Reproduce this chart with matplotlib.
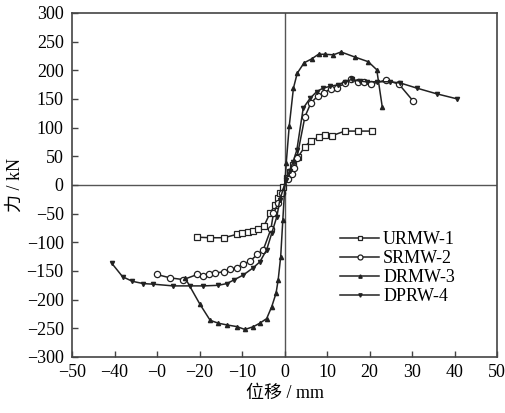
import numpy as np
import matplotlib
matplotlib.use('Agg')
import matplotlib.pyplot as plt

plt.rcParams['font.family'] = ['Liberation Serif', 'Noto Sans CJK SC']
plt.rcParams['mathtext.fontset'] = 'stix'

# URMW-1 (squares)
urmw_x = [-20.7, -17.5, -14.2, -11.2, -9.9, -8.7, -7.5, -6.2, -4.8, -3.4, -2.2, -1.6, -1.1, -0.3,
          0.6, 1.3, 2.0, 3.2, 4.8, 6.2, 8.0, 9.5, 11.2, 14.2, 17.2, 20.5]
urmw_y = [-91, -92, -92, -86, -84, -82, -80, -77, -71, -49, -35, -23, -14, -3,
          12, 23, 35, 49, 67, 77, 83, 87, 86, 94, 94, 94]

# SRMW-2 (circles)
srmw_x = [-30.1, -26.9, -23.8, -20.5, -19.1, -17.7, -16.4, -14.2, -12.8, -11.1, -9.7, -8.1, -6.4, -5.0,
          -3.2, -2.6, -1.5, -0.7, 0.8, 1.7, 2.2, 2.9, 4.8, 6.2, 7.8, 9.4, 10.9, 12.3, 14.2, 15.6,
          17.2, 18.8, 20.4, 23.8, 26.9, 30.2]
srmw_y = [-156, -162, -165, -156, -158, -156, -154, -151, -147, -144, -138, -133, -121, -113,
          -77, -49, -32, -14, 10, 20, 29, 47, 119, 143, 155, 161, 168, 170, 177, 184,
          180, 180, 176, 183, 176, 147]

# DRMW-3 (up triangles)
drmw_x = [-23.4, -19.9, -17.5, -15.6, -13.6, -11.2, -9.3, -7.3, -5.8, -4.2, -3.0, -2.0, -1.5, -0.9,
          -0.4, 0.4, 1.1, 2.1, 3.0, 4.6, 6.4, 8.0, 9.5, 11.5, 13.3, 16.6, 19.7, 21.7, 23.0]
drmw_y = [-162, -208, -236, -241, -244, -247, -252, -247, -241, -233, -212, -189, -166, -125,
          -61, 38, 102, 169, 195, 213, 220, 228, 228, 227, 232, 223, 215, 201, 136]

# DPRW-4 (down triangles)
dprw_x = [-40.7, -38.1, -35.8, -33.2, -30.9, -26.2, -22.2, -19.1, -15.6, -13.6, -12.0, -9.7, -7.3,
          -5.8, -4.2, -3.0, -1.8, -1.1, 0.3, 1.2, 2.0, 2.9, 4.4, 6.0, 7.6, 9.1, 10.7, 12.7, 14.2,
          15.8, 17.8, 19.3, 21.7, 24.8, 27.2, 31.1, 35.8, 40.7]
dprw_y = [-136, -160, -168, -172, -173, -176, -176, -176, -175, -172, -166, -157, -144,
          -134, -113, -84, -55, -26, 8, 25, 40, 61, 134, 151, 163, 169, 172, 175, 180,
          184, 181, 180, 180, 180, 178, 169, 159, 150]

xticks = [-50, -40, -30, -20, -10, 0, 10, 20, 30, 40, 50]
xtick_labels = ['\u221250', '\u221240', '\u22120', '\u221220', '\u221210', '0', '10', '20', '30', '40', '50']
yticks = list(range(-300, 301, 50))

fig = plt.figure(figsize=(5.05, 4.13), dpi=100)
ax = fig.add_axes([0.1426, 0.1356, 0.8416, 0.833])

lc = '#222222'
ax.axhline(0, color='#555555', lw=1.0, zorder=1)
ax.axvline(0, color='#555555', lw=1.0, zorder=1)

ax.plot(urmw_x, urmw_y, color=lc, lw=1.1, marker='s', ms=4, mfc='white', mec=lc, mew=0.9, label='URMW-1')
ax.plot(srmw_x, srmw_y, color=lc, lw=1.1, marker='o', ms=4.5, mfc='white', mec=lc, mew=0.9, label='SRMW-2')
ax.plot(drmw_x, drmw_y, color=lc, lw=1.1, marker='^', ms=3, mfc=lc, mec=lc, label='DRMW-3')
ax.plot(dprw_x, dprw_y, color=lc, lw=1.1, marker='v', ms=3, mfc=lc, mec=lc, label='DPRW-4')

ax.set_xlim(-50, 50)
ax.set_ylim(-300, 300)
ax.set_xticks(xticks)
ax.set_xticklabels(xtick_labels)
ax.set_yticks(yticks)
ax.set_yticklabels([str(v).replace('-', '\u2212') for v in yticks])
ax.tick_params(direction='in', length=4, width=1, color='#444444', labelsize=13)
ax.tick_params(axis='x', pad=5)
ax.tick_params(axis='y', pad=6)
for s in ax.spines.values():
    s.set_color('#444444')
    s.set_linewidth(1.2)

ax.set_xlabel('位移 / mm', fontsize=13, labelpad=3)
ax.set_ylabel('力 / kN', fontsize=13, labelpad=2)

leg = ax.legend(loc='upper left', bbox_to_anchor=(0.63, 0.365), frameon=False, fontsize=13,
                handlelength=2.2, handletextpad=0.2, labelspacing=0.1, borderaxespad=0, borderpad=0,
                markerscale=0.8)

fig.savefig('out.png', dpi=100)
